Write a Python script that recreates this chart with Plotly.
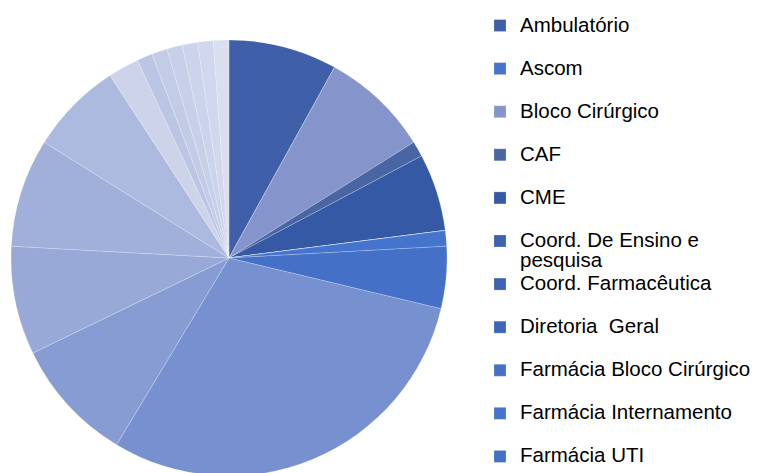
import textwrap
import plotly.graph_objects as go

categories = [
    "Ambulatório", "Ascom", "Bloco Cirúrgico", "CAF", "CME",
    "Coord. De Ensino e pesquisa", "Coord. Farmacêutica", "Diretoria  Geral",
    "Farmácia Bloco Cirúrgico", "Farmácia Internamento", "Farmácia UTI",
    "Gerência de Enfermagem", "Laboratório", "Nutrição", "Ouvidoria",
    "Pediatria", "Pronto Socorro", "Radiologia", "SAME", "Serviço Social",
    "UTI Adulto", "UTI Neonatal", "Urgência",
]
values = [7, 0, 7, 1, 5, 0, 0, 0, 0, 1, 4, 26, 8, 7, 7, 6, 2, 1, 1, 1, 1, 1, 1]
colors = [
    "#3F60A8", "#4674C8", "#8595CB", "#4A65A4", "#3559A4",
    "#3D63B3", "#3D62B2", "#3E66B8", "#4570C4", "#4474CC", "#4470C8",
    "#7790D0", "#889CD4", "#98A9D8", "#A0B0DA", "#ADBADF", "#CDD4EA",
    "#BBC6E4", "#C2CCE7", "#C7D0E9", "#CCD4EC", "#D1D8ED", "#D9DFF0",
]

W, H = 760, 473
TEXT_PX = 20.5
LEGEND_FS = 15.42


def legend_label(name):
    lines = textwrap.wrap(name.replace("  ", "\u00a0 "), width=24)
    if len(lines) < 2:
        lines.append(" ")
    out = [f"<span style='font-size:{TEXT_PX}px'>{ln}</span>" for ln in lines]
    # invisible padding so the legend's clip box is wide enough for the text
    out[0] += f"<span style='font-size:{TEXT_PX}px;color:rgba(0,0,0,0)'>__</span>"
    return "<br>".join(out)


labels = [legend_label(c) for c in categories]

# pie box in figure pixels (the page adds an 8px body margin)
PIE_L, PIE_R, PIE_T, PIE_B = 3, 439, 32, 468

fig = go.Figure(
    go.Pie(
        labels=labels,
        values=values,
        sort=False,
        direction="clockwise",
        rotation=0,
        textinfo="none",
        hoverinfo="none",
        marker=dict(colors=colors, line=dict(color="rgba(255,255,255,0.35)", width=0.6)),
        domain=dict(x=[PIE_L / W, PIE_R / W], y=[(H - PIE_B) / H, (H - PIE_T) / H]),
    )
)

fig.update_layout(
    width=W,
    height=H,
    autosize=False,
    margin=dict(l=0, r=0, t=0, b=0, autoexpand=False),
    paper_bgcolor="white",
    plot_bgcolor="white",
    font=dict(family="Liberation Sans, Arial, sans-serif", color="black"),
    showlegend=True,
    legend=dict(
        x=472 / W,
        xanchor="left",
        y=1 - 1 / H,
        yanchor="top",
        valign="top",
        font=dict(size=LEGEND_FS, color="black", family="Liberation Sans, Arial, sans-serif"),
        bgcolor="rgba(0,0,0,0)",
        borderwidth=0,
        itemclick=False,
        itemdoubleclick=False,
    ),
)

fig.write_html("out.html")
